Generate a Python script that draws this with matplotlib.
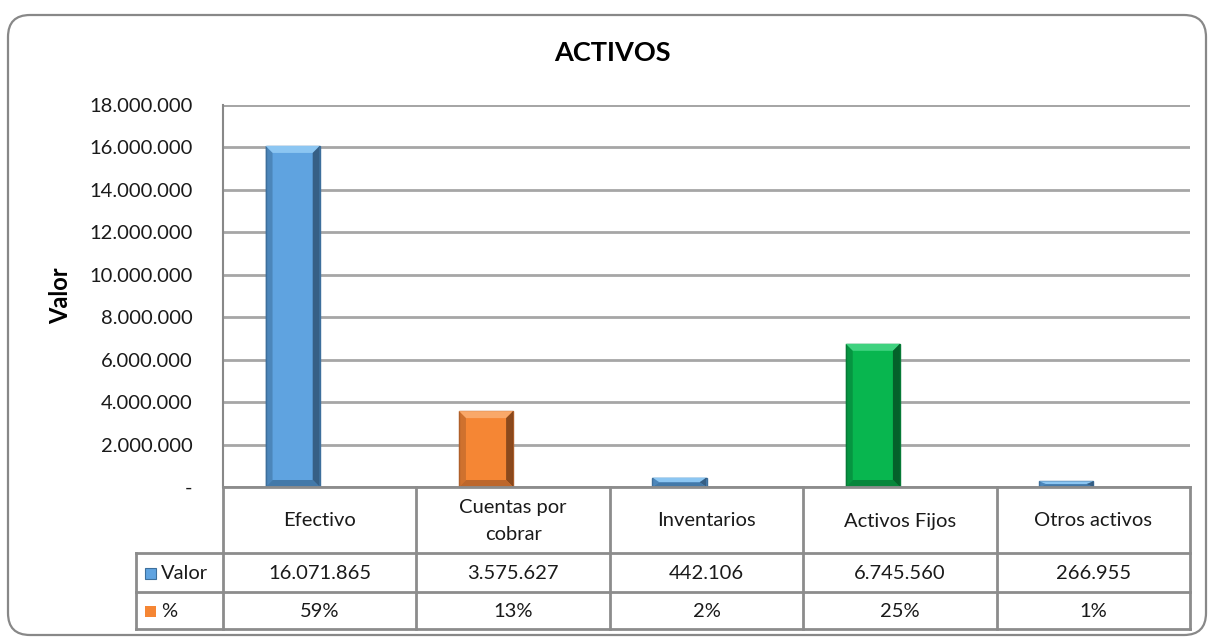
import numpy as np
import matplotlib
matplotlib.use('Agg')
import matplotlib.pyplot as plt
from matplotlib.patches import FancyBboxPatch, Polygon, Rectangle

plt.rcParams['font.family'] = ['Lato', 'DejaVu Sans']

categories = ['Efectivo', 'Cuentas por\ncobrar', 'Inventarios', 'Activos Fijos', 'Otros activos']
valores = [16071865, 3575627, 442106, 6745560, 266955]
porcentajes = [59, 13, 2, 25, 1]
valor_labels = ['16.071.865', '3.575.627', '442.106', '6.745.560', '266.955']
pct_labels = ['59%', '13%', '2%', '25%', '1%']
yticks = [0, 2000000, 4000000, 6000000, 8000000, 10000000, 12000000, 14000000, 16000000, 18000000]
ytick_labels = ['-', '2.000.000', '4.000.000', '6.000.000', '8.000.000', '10.000.000',
                '12.000.000', '14.000.000', '16.000.000', '18.000.000']

# (main, light top, dark right, edge)
blue = ('#5FA3E0', '#8CC6F2', '#25435F', '#3D6F9C')
orange = ('#F58634', '#F9A869', '#5E3012', '#B0602A')
green = ('#08B64F', '#3FD27F', '#033D1B', '#067A36')
bar_styles = [blue, orange, blue, green, blue]

W, H = 1209, 638
fig = plt.figure(figsize=(W / 100, H / 100), dpi=100)

# pixel overlay for frame and table
ov = fig.add_axes([0, 0, 1, 1], zorder=0)
ov.set_xlim(0, W)
ov.set_ylim(H, 0)
ov.axis('off')
ov.add_patch(FancyBboxPatch((8, 15), 1198, 620, boxstyle='round,pad=0,rounding_size=22',
                            fc='white', ec='#888888', lw=1.6))

x0, x1, ytop, ybot = 223, 1190, 105, 487
ax = fig.add_axes([x0 / W, 1 - ybot / H, (x1 - x0) / W, (ybot - ytop) / H], zorder=2)
ax.patch.set_alpha(0)
xs = np.arange(len(categories))
bw = 0.28
ax.set_xlim(-0.5, len(categories) - 0.5)
ax.set_ylim(0, 18000000)
ax.set_yticks(yticks)
ax.set_yticklabels(ytick_labels, fontsize=14.5, color='#1a1a1a')
ax.set_xticks([])
ax.tick_params(axis='y', length=0, pad=22)
for s in ['top', 'right', 'bottom']:
    ax.spines[s].set_visible(False)
ax.spines['left'].set_color('#888888')
ax.spines['left'].set_linewidth(1.5)
ax.set_axisbelow(True)
ax.grid(axis='y', color='#A6A6A6', lw=2)
ax.axhline(18000000, color='#A6A6A6', lw=2, zorder=0.5)
ax.set_ylabel('Valor', fontsize=17, fontweight='bold', labelpad=12)

bars = ax.bar(xs - bw / 2, valores, width=bw, color=[s[0] for s in bar_styles],
              edgecolor=[s[3] for s in bar_styles], lw=1, zorder=3)
# second series (%) is on the same scale, so it is practically invisible
ax.bar(xs + bw / 2, porcentajes, width=bw, color=orange[0], zorder=3)

# bevel look
px_x = (len(categories)) / (x1 - x0)
px_y = 18000000 / (ybot - ytop)
for b, st in zip(bars, bar_styles):
    bx, by, bwid, bh = b.get_x(), b.get_y(), b.get_width(), b.get_height()
    dx = 7 * px_x
    dy = min(7 * px_y, bh / 2)
    top = Polygon([(bx, by + bh), (bx + bwid, by + bh), (bx + bwid - dx, by + bh - dy),
                   (bx + dx, by + bh - dy)], closed=True, fc=st[1], ec='none', zorder=4)
    right = Polygon([(bx + bwid, by + bh), (bx + bwid, by), (bx + bwid - dx, by + dy),
                     (bx + bwid - dx, by + bh - dy)], closed=True, fc=st[2], ec='none',
                    alpha=0.7, zorder=4)
    left = Polygon([(bx, by + bh), (bx, by), (bx + dx, by + dy), (bx + dx, by + bh - dy)],
                   closed=True, fc=st[3], ec='none', alpha=0.55, zorder=4)
    bottom = Polygon([(bx, by), (bx + bwid, by), (bx + bwid - dx, by + dy), (bx + dx, by + dy)],
                     closed=True, fc=st[3], ec='none', alpha=0.8, zorder=4)
    for p in (top, right, left, bottom):
        ax.add_patch(p)

# data table
ov2 = fig.add_axes([0, 0, 1, 1], zorder=3)
ov2.set_xlim(0, W)
ov2.set_ylim(H, 0)
ov2.axis('off')
lc = '#8C8C8C'
col_edges = np.linspace(x0, x1, len(categories) + 1)
r0, r1, r2, r3 = 487, 553, 592, 629
lab_x = 136
ov2.plot([x0, x1], [r0, r0], color=lc, lw=2)
for y in (r1, r2, r3):
    ov2.plot([lab_x, x1], [y, y], color=lc, lw=2)
ov2.plot([lab_x, lab_x], [r1, r3], color=lc, lw=2)
for xe in col_edges:
    ov2.plot([xe, xe], [r0, r3], color=lc, lw=2)
fs = 14.5
for i, c in enumerate(categories):
    cx = (col_edges[i] + col_edges[i + 1]) / 2
    ov2.text(cx, (r0 + r1) / 2 + 1, c, ha='center', va='center', fontsize=fs,
             color='#1a1a1a', linespacing=1.65)
    ov2.text(cx, (r1 + r2) / 2 + 1, valor_labels[i], ha='center', va='center', fontsize=fs,
             color='#1a1a1a')
    ov2.text(cx, (r2 + r3) / 2 + 1, pct_labels[i], ha='center', va='center', fontsize=fs,
             color='#1a1a1a')
ov2.add_patch(Rectangle((145, (r1 + r2) / 2 - 5), 11, 11, fc=blue[0], ec=blue[3], lw=0.8))
ov2.add_patch(Rectangle((145, (r2 + r3) / 2 - 5), 11, 11, fc=orange[0], ec='none'))
ov2.text(161, (r1 + r2) / 2 + 1, 'Valor', ha='left', va='center', fontsize=fs, color='#1a1a1a')
ov2.text(161, (r2 + r3) / 2 + 1, '%', ha='left', va='center', fontsize=fs, color='#1a1a1a')

fig.text(612 / W, 1 - 53 / H, 'ACTIVOS', ha='center', va='center', fontsize=19.5,
         fontweight='bold')

fig.savefig('out.png', dpi=100)
